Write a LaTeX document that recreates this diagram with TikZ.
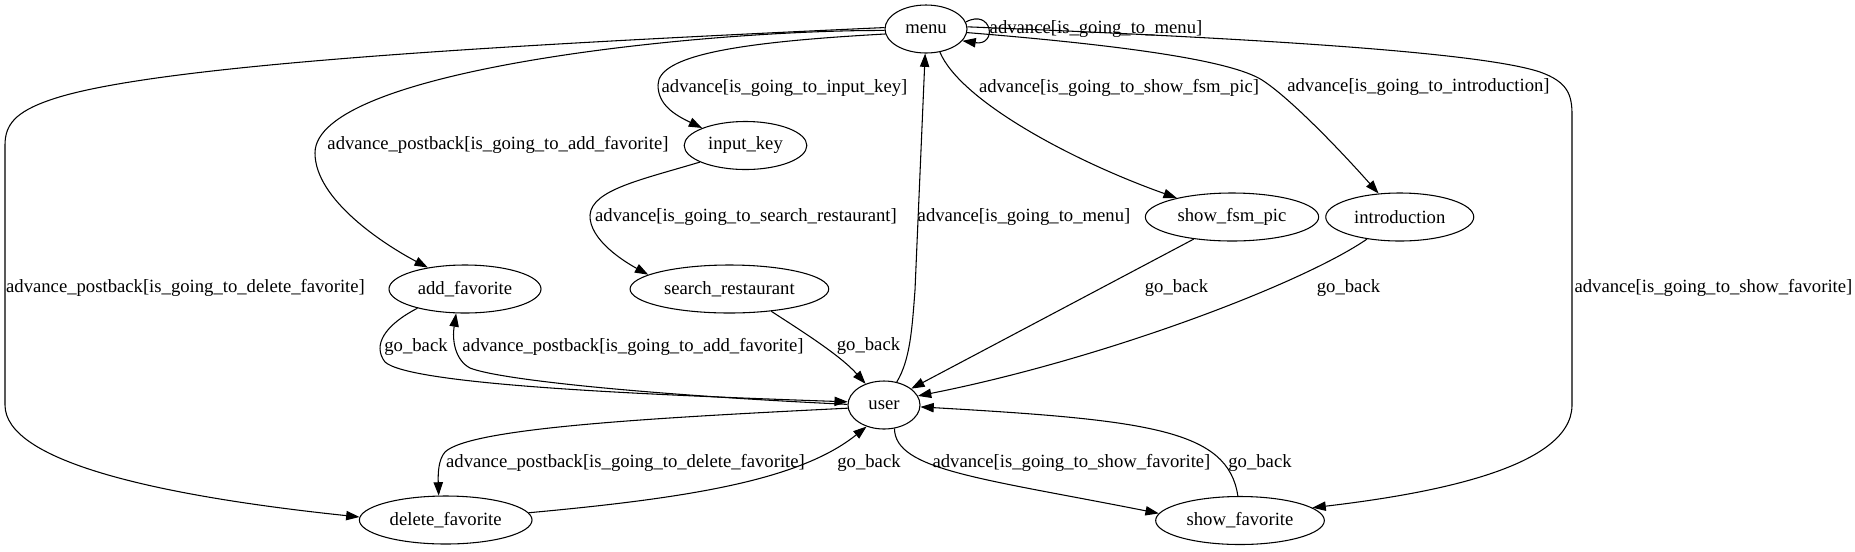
\documentclass[tikz,border=0pt]{standalone}
\usepackage{fontspec}
\setmainfont{Liberation Serif}
\usetikzlibrary{arrows.meta,positioning,shapes.geometric}

\begin{document}
\begin{tikzpicture}[x=0.75pt, y=-0.75pt, font=\fontsize{14}{16}\selectfont, line width=0.8pt,
    state/.style={draw, ellipse, minimum height=36pt, inner sep=0pt},
    lbl/.style={inner sep=0pt, text height=10pt, text depth=3pt},
    trans/.style={->, >={Triangle[length=10pt, width=7pt]}}
]

\useasboundingbox[fill=white] (0,0) rectangle (1855,551);

% States
\node[state, minimum width=61.5pt] (Menu) at (926,29) {menu};
\node[state, minimum width=92pt] (InputKey) at (745.5,145.5) {input\_key};
\node[state, minimum width=130pt] (ShowFsmPic) at (1232,217) {show\_fsm\_pic};
\node[state, minimum width=111pt, right=4.5pt of ShowFsmPic] (Introduction) {introduction};
\node[state, minimum width=114pt] (AddFavorite) at (465,289) {add\_favorite};
\node[state, minimum width=149pt, right=66pt of AddFavorite] (SearchRestaurant) {search\_restaurant};
\node[state, minimum width=54pt] (User) at (884,405) {user};
\node[state, minimum width=129.5pt] (DeleteFavorite) at (445.7,520) {delete\_favorite};
\node[state, minimum width=126.5pt] (ShowFavorite) at (1240,520.5) {show\_favorite};

% 1. menu loop
\draw[trans] (Menu.10) .. controls (992,8) and (998,46) .. (Menu.-18)
  node[lbl] (lMenuSelf) at (1096,29) {advance[is\_going\_to\_menu]};

% 2. menu -> input_key
\draw[trans] (Menu.187) .. controls (740,42) and (658,55) .. (658,85) .. controls (658,105) and (675,115) .. (InputKey.158)
  node[lbl] (lInputKey) at (784.5,88) {advance[is\_going\_to\_input\_key]};

% 3. menu -> add_favorite
\draw[trans] (Menu.182) .. controls (700,30) and (315,70) .. (315,153) .. controls (315,200) and (385,245) .. (AddFavorite.150)
  node[lbl] (lAddFav) at (498,145) {advance\_postback[is\_going\_to\_add\_favorite]};

% 4. menu -> delete_favorite
\draw[trans] (Menu.178) .. controls (500,45) and (150,65) .. (50,100) .. controls (15,112) and (5,125) .. (5,145) -- (5,405) .. controls (5,460) and (150,495) .. (DeleteFavorite.178)
  node[lbl] (lDelFav) at (185.5,288) {advance\_postback[is\_going\_to\_delete\_favorite]};

% 5. input_key -> search_restaurant
\draw[trans] (InputKey.200) .. controls (640,180) and (592,190) .. (590,215) .. controls (589,240) and (625,262) .. (SearchRestaurant.170)
  node[lbl] (lSearch) at (746,217) {advance[is\_going\_to\_search\_restaurant]};

% 6. menu -> show_fsm_pic
\draw[trans] (Menu.-59) .. controls (960,100) and (1070,160) .. (ShowFsmPic.161)
  node[lbl] (lShowFsm) at (1119,88) {advance[is\_going\_to\_show\_fsm\_pic]};

% 7. menu -> introduction
\draw[trans] (Menu.-5) .. controls (1120,45) and (1230,60) .. (1262,80) .. controls (1290,98) and (1340,150) .. (Introduction.132)
  node[lbl] (lIntro) at (1418.5,87) {advance[is\_going\_to\_introduction]};

% 8. menu -> show_favorite
\draw[trans] (Menu.3) .. controls (1250,38) and (1480,52) .. (1540,72) .. controls (1568,82) and (1572,95) .. (1572,115) -- (1572,405) .. controls (1572,470) and (1420,495) .. (ShowFavorite.10)
  node[lbl, anchor=west] (lShowFav) at (1574,288) {advance[is\_going\_to\_show\_favorite]};

% 9. user -> menu
\draw[trans] (User.61) .. controls (910,360) and (912,330) .. (915,290) -- (Menu.-92)
  node[lbl] (lUserMenu) at (1024,217) {advance[is\_going\_to\_menu]};

% 10. show_fsm_pic -> user
\draw[trans] (ShowFsmPic.210) -- (User.31)
  node[lbl] (lGbFsm) at (1176.5,288) {go\_back};

% 11. introduction -> user
\draw[trans] (Introduction.214) .. controls (1300,285) and (1100,360) .. (User.15)
  node[lbl] (lGbIntro) at (1348.5,288) {go\_back};

% 12. search_restaurant -> user
\draw[trans] (SearchRestaurant.-28) .. controls (800,330) and (840,355) .. (User.131)
  node[lbl] (lGbSearch) at (868.5,346) {go\_back};

% 13. add_favorite -> user
\draw[trans] (AddFavorite.202) .. controls (385,325) and (372,345) .. (385,362) .. controls (410,385) and (650,395) .. (User.175)
  node[lbl] (lGbAdd) at (416,347) {go\_back};

% 14. user -> add_favorite
\draw[trans] (User.179) .. controls (650,395) and (500,380) .. (470,368) .. controls (455,360) and (452,340) .. (AddFavorite.-110)
  node[lbl] (lAddUser) at (633,347) {advance\_postback[is\_going\_to\_add\_favorite]};

% 15. user -> delete_favorite
\draw[trans] (User.-175) .. controls (650,418) and (470,428) .. (445,452) .. controls (438,460) and (438,475) .. (DeleteFavorite.106)
  node[lbl] (lDelUser) at (625.5,463) {advance\_postback[is\_going\_to\_delete\_favorite]};

% 16. delete_favorite -> user
\draw[trans] (DeleteFavorite.5) .. controls (690,498) and (800,480) .. (User.-129)
  node[lbl] (lGbDel) at (869,463) {go\_back};

% 17. user -> show_favorite
\draw[trans] (User.-66) .. controls (895,470) and (980,478) .. (ShowFavorite.175)
  node[lbl] (lUserShow) at (1071.5,463) {advance[is\_going\_to\_show\_favorite]};

% 18. show_favorite -> user
\draw[trans] (ShowFavorite.95) .. controls (1228,430) and (1150,420) .. (User.-3)
  node[lbl] (lGbShow) at (1260,463) {go\_back};

\end{tikzpicture}
\end{document}
